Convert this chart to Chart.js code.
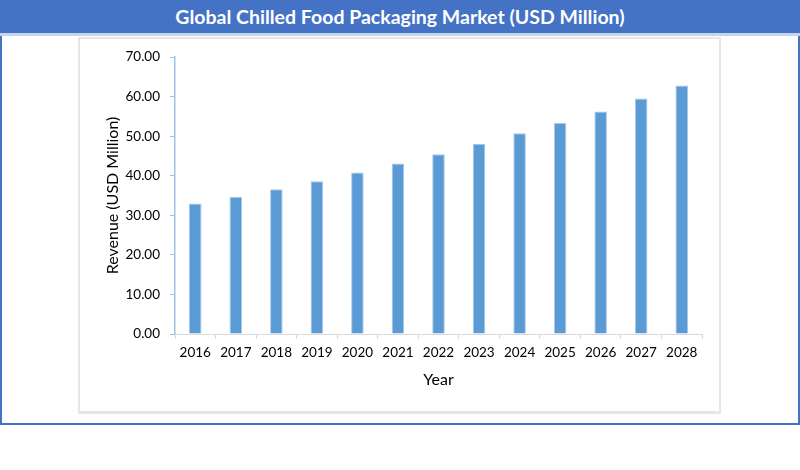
<!DOCTYPE html>
<html>
<head>
<meta charset="utf-8">
<script src="https://cdn.jsdelivr.net/npm/chart.js@4/dist/chart.umd.min.js"></script>
<style>
  body { margin: 0; background: #fff; font-family: Lato, sans-serif; }
  #page { position: relative; width: 800px; height: 470px; overflow: hidden; }
  #frame {
    position: absolute; left: 0; top: 0; width: 796px; height: 423px;
    border-left: 2px solid #4472C4; border-right: 2px solid #4472C4; border-bottom: 2px solid #4472C4;
  }
  #title {
    position: absolute; left: 0; top: 0; width: 800px; height: 33px;
    background: #4472C4; color: #fff; font-weight: bold; font-size: 19.5px;
    line-height: 33px; text-align: center;
    border-bottom: 3px solid #C5D5EE;
  }
  #box {
    position: absolute; left: 78px; top: 37px; width: 639px; height: 372px;
    border: 2px solid #E6E6E6; border-bottom-width: 3px;
  }
  #wrap { position: absolute; left: 79px; top: 38px; width: 640px; height: 371px; }
</style>
</head>
<body>
<div id="page">
  <div id="frame"></div>
  <div id="title">Global Chilled Food Packaging Market (USD Million)</div>
  <div id="box"></div>
  <div id="wrap"><canvas id="myChart"></canvas></div>
</div>
<script>
const years = ['2016', '2017', '2018', '2019', '2020', '2021', '2022', '2023', '2024', '2025', '2026', '2027', '2028'];
const revenue = [33.0, 34.7, 36.6, 38.6, 40.8, 43.1, 45.4, 48.1, 50.7, 53.3, 56.2, 59.5, 62.8];
const yTicks = [0, 10, 20, 30, 40, 50, 60, 70];

document.addEventListener("DOMContentLoaded", function () {
    const ctx = document.getElementById('myChart').getContext('2d');

    new Chart(ctx, {
        type: 'bar',
        data: {
            labels: years,
            datasets: [{
                label: 'Revenue (USD Million)',
                data: revenue,
                backgroundColor: '#5B9BD5',
                borderColor: '#A7C8E8',
                borderWidth: 1,
                barPercentage: 0.31,
                categoryPercentage: 1
            }]
        },
        options: {
            responsive: true,
            maintainAspectRatio: false,
            animation: false,
            layout: { padding: { top: 19, right: 17, left: 0, bottom: 0 } },
            plugins: {
                legend: { display: false },
                tooltip: { enabled: false }
            },
            scales: {
                x: {
                    grid: { offset: true, drawOnChartArea: false, tickLength: 5, color: '#D9D9D9' },
                    border: { color: '#D9D9D9', width: 1 },
                    ticks: { color: '#000', font: { family: 'Lato', size: 13.5 }, padding: 6, maxRotation: 0 },
                    title: { display: true, text: 'Year', color: '#000', font: { family: 'Lato', size: 16 }, padding: { top: 0, bottom: 20 } },
                    afterFit: function (scale) { scale.height = 75; }
                },
                y: {
                    min: 0,
                    max: 70,
                    afterBuildTicks: function (scale) { scale.ticks = yTicks.map(v => ({ value: v })); },
                    grid: { drawOnChartArea: false, tickLength: 5, color: '#9DC3E6' },
                    border: { color: '#9DC3E6', width: 1.5 },
                    ticks: {
                        color: '#000', font: { family: 'Lato', size: 13.5 }, padding: 10,
                        callback: function (v) { return Number(v).toFixed(2); }
                    },
                    title: { display: true, text: 'Revenue (USD Million)', color: '#000', font: { family: 'Lato', size: 16 }, padding: { top: 24, bottom: 0 } },
                    afterFit: function (scale) { scale.width = 96; }
                }
            }
        }
    });
});
</script>
</body>
</html>
